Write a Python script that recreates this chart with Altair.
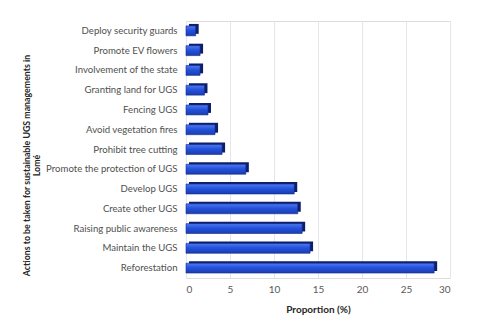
import altair as alt
import pandas as pd

actions = [
    "Deploy security guards",
    "Promote EV flowers",
    "Involvement of the state",
    "Granting land for UGS",
    "Fencing UGS",
    "Avoid vegetation fires",
    "Prohibit tree cutting",
    "Promote the protection of UGS",
    "Develop UGS",
    "Create other UGS",
    "Raising public awareness",
    "Maintain the UGS",
    "Reforestation",
]
proportions = [1.1, 1.6, 1.6, 2.1, 2.5, 3.3, 4.1, 6.8, 12.3, 12.7, 13.2, 14.1, 28.2]
x_ticks = [0, 5, 10, 15, 20, 25, 30]

df = pd.DataFrame({"action": actions, "value": proportions})

FONT = "Lato"

y_enc = alt.Y("action:N", sort=actions,
              scale=alt.Scale(paddingInner=0.5, paddingOuter=0.25),
              axis=alt.Axis(title=["Actions to be taken for sustainable UGS managements in", "Lomé"],
                            titleFont=FONT, titleFontSize=8.8, titleFontWeight="bold",
                            titleColor="#262626", titleAngle=-90,
                            titleX=-155, titleY=144, titleAlign="center",
                            labelFont=FONT, labelFontSize=9.6, labelColor="#505050",
                            labelPadding=9, ticks=False, domain=True,
                            domainColor="#E3E6EC", grid=False))
x_scale = alt.Scale(domain=[0, 30], nice=False)

back = alt.Chart(df).mark_bar(color="#0E1E6A", xOffset=3, yOffset=-2, cornerRadius=0).encode(
    x=alt.X("value:Q", scale=x_scale,
            axis=alt.Axis(values=x_ticks, title="Proportion (%)",
                          titleFont=FONT, titleFontSize=10, titleFontWeight="bold",
                          titleColor="#262626", titlePadding=10,
                          labelFont=FONT, labelFontSize=10, labelColor="#595959",
                          labelPadding=6, ticks=False, domain=False,
                          grid=True, gridColor="#E3E6EC", gridWidth=1)),
    y=y_enc,
)

front = alt.Chart(df).mark_bar(
    color=alt.Gradient(
        gradient="linear", x1=0, y1=0, x2=0, y2=1,
        stops=[alt.GradientStop(offset=0, color="#4F7BF2"),
               alt.GradientStop(offset=0.45, color="#2452DC"),
               alt.GradientStop(offset=1, color="#1A3CB0")]),
    stroke="#142C8C", strokeWidth=0.6,
).encode(x=alt.X("value:Q", scale=x_scale), y=alt.Y("action:N", sort=actions))

chart = alt.layer(back, front).properties(
    width=264, height=257,
    autosize=alt.AutoSizeParams(type="none"),
    padding={"left": 178, "top": 13, "right": 20, "bottom": 40},
).configure_view(stroke=None).configure(background="white")

chart.save("out.html", embed_options={"renderer": "svg", "actions": False})
